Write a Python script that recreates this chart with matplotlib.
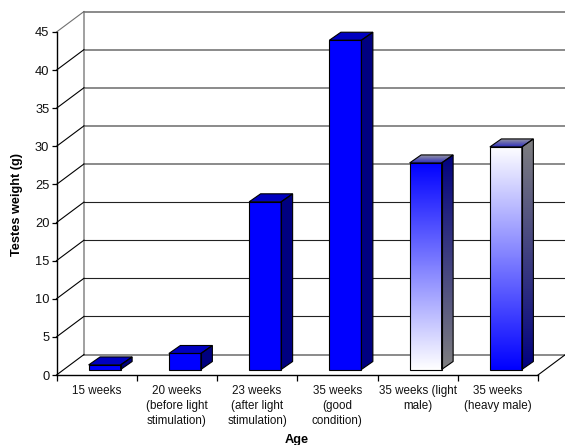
import numpy as np
import matplotlib
matplotlib.use("Agg")
import matplotlib.pyplot as plt
from matplotlib.patches import Polygon
from matplotlib.colors import LinearSegmentedColormap

plt.rcParams['font.family'] = ['Liberation Sans', 'DejaVu Sans']

categories = ["15 weeks", "20 weeks\n(before light\nstimulation)", "23 weeks\n(after light\nstimulation)",
              "35 weeks\n(good\ncondition)", "35 weeks (light\nmale)", "35 weeks\n(heavy male)"]
values = [0.6, 2.1, 22, 43.2, 27.1, 29.2]
fills = ["solid", "solid", "solid", "solid", "down", "up"]
yticks = list(range(0, 50, 5))
grey_grid = [0, 25, 30, 35, 40, 45]

W, H = 565, 445
L, R, B, T = 56.5, 538.0, 375.0, 32.0
fig = plt.figure(figsize=(W / 100, H / 100), dpi=100)
ax = fig.add_axes([L / W, 1 - B / H, (R - L) / W, (B - T) / H])
ux = (R - L) / 6      # px per category
uy = (B - T) / 45     # px per value unit
wall_dx, wall_dy = 27.5 / ux, 20.5 / uy
bar_off_x, bar_w = 8.0 / ux, 32.0 / ux
base = 5.5 / uy
dep_x, dep_y = 11.5 / ux, 8.0 / uy

# walls and grid
ax.plot([wall_dx, wall_dx], [wall_dy, 45 + wall_dy], color="#909090", lw=1.2, clip_on=False, zorder=1)
for v in yticks:
    grey = v in grey_grid
    ax.plot([wall_dx, 6 + wall_dx], [v + wall_dy] * 2, color="#777777" if grey else "#222222",
            lw=1.2 if grey else 0.8, clip_on=False, zorder=1)
    ax.plot([0, wall_dx], [v, v + wall_dy], color="black" if v != 45 else "#707070", lw=0.8,
            clip_on=False, zorder=1)
ax.plot([6, 6 + wall_dx], [0, wall_dy], color="black", lw=0.8, clip_on=False, zorder=1)


def grad(poly, c_top, c_bot, ybot, ytop, xl, xr):
    cmap = LinearSegmentedColormap.from_list("g", [c_bot, c_top])
    pad_x, pad_y = 1.0 / ux, 1.0 / uy
    im = ax.imshow(np.linspace(0, 1, 128)[::-1, None], cmap=cmap, aspect="auto",
                   extent=[xl - pad_x, xr + pad_x, ybot - pad_y, ytop + pad_y], zorder=3)
    p = Polygon(poly, closed=True, transform=ax.transData, fc="none", ec="none")
    ax.add_patch(p)
    im.set_clip_path(p)


for i, (v, f) in enumerate(zip(values, fills)):
    x0 = i + 0.5 + bar_off_x - bar_w / 2
    x1 = x0 + bar_w
    y0, y1 = base, v + base
    front = [(x0, y0), (x1, y0), (x1, y1), (x0, y1)]
    side = [(x1, y0), (x1 + dep_x, y0 + dep_y), (x1 + dep_x, y1 + dep_y), (x1, y1)]
    top = [(x0, y1), (x1, y1), (x1 + dep_x, y1 + dep_y), (x0 + dep_x, y1 + dep_y)]
    if f == "solid":
        ax.add_patch(Polygon(front, fc="#0000FF", ec="none", zorder=3, clip_on=False))
        ax.add_patch(Polygon(side, fc="#000080", ec="none", zorder=3, clip_on=False))
        ax.add_patch(Polygon(top, fc="#0000C0", ec="none", zorder=3, clip_on=False))
    else:
        fc = ("#0000FF", "#FFFFFF") if f == "down" else ("#FFFFFF", "#0000FF")
        sc = ("#000080", "#808080") if f == "down" else ("#808080", "#000080")
        grad(front, fc[0], fc[1], y0, y1, x0, x1)
        grad(side, sc[0], sc[1], y0, y1 + dep_y, x1, x1 + dep_x)
        grad(top, "#A0A0A0", "#2020C0", y1, y1 + dep_y, x0, x1 + dep_x)
    for poly in (front, side, top):
        ax.add_patch(Polygon(poly, fc="none", ec="black", lw=0.8, zorder=4, clip_on=False))

ax.set_xlim(0, 6)
ax.set_ylim(0, 45)
ax.set_facecolor("none")
for s in ("top", "right"):
    ax.spines[s].set_visible(False)
for s in ("left", "bottom"):
    ax.spines[s].set_linewidth(1.0)
ax.set_yticks(yticks)
ax.set_xticks(range(7))
ax.set_xticklabels([])
ax.set_xticks(np.arange(6) + 0.5, categories, minor=True, fontsize=8.4, linespacing=1.32, color="#111111")
ax.tick_params(axis="x", which="minor", length=0, pad=7.5)
ax.tick_params(axis="x", which="major", length=4.5, width=0.9)
ax.tick_params(axis="y", length=3.6, width=0.9, labelsize=9.3, pad=1.5, labelcolor="#111111")

fig.text(297 / W, 1 - 440 / H, "Age", fontsize=9.2, fontweight="bold", ha="center", va="center")
fig.text(17.5 / W, 1 - 204.5 / H, "Testes weight (g)", fontsize=9.2, fontweight="bold",
         rotation=90, ha="center", va="center")
fig.savefig("out.png", dpi=100)
